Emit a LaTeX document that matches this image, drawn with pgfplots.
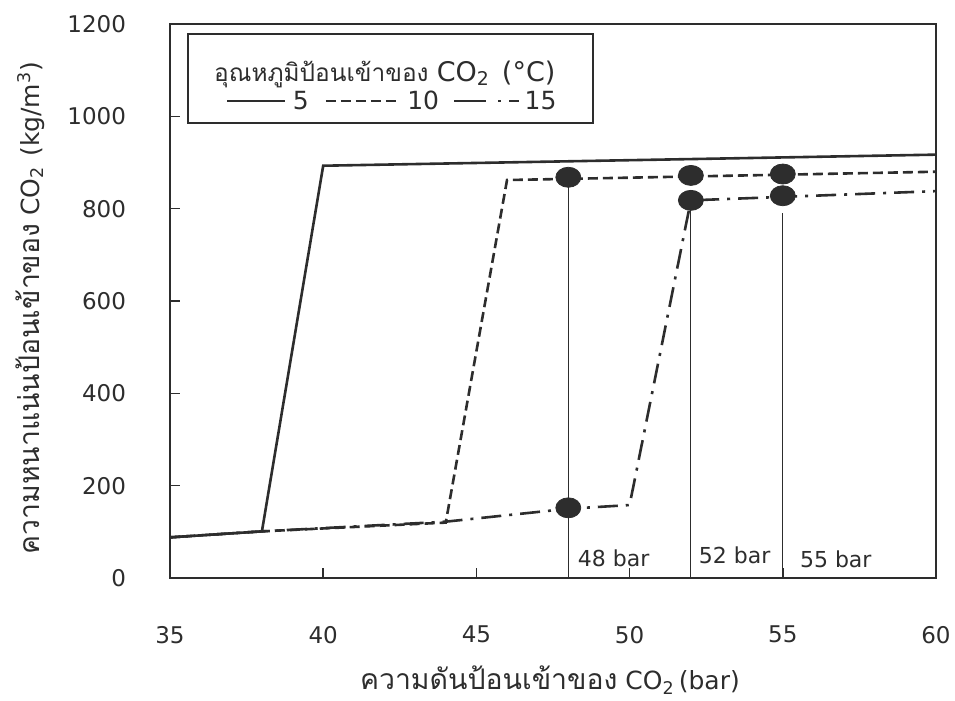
\documentclass[border=0pt]{standalone}
\usepackage{pgfplots}
\pgfplotsset{compat=1.18}
\usepackage{fontspec}
\setmainfont{DejaVu Sans}
\newfontfamily\thai[Script=Thai]{Loma}
\definecolor{ink}{RGB}{45,45,45}
\newcommand{\thaiL}[1]{{\fontsize{14.2pt}{16pt}\thai #1}}
\begin{document}
\fontsize{11.5pt}{14pt}\selectfont
\begin{tikzpicture}
\begin{axis}[
  at={(0,0)}, anchor=south west,
  scale only axis, width=383pt, height=277pt,
  xmin=35, xmax=60, ymin=0, ymax=1200,
  xtick={35,40,45,50,55,60}, ytick={0,200,400,600,800,1000,1200},
  tick align=inside, xtick pos=bottom, ytick pos=left,
  major tick length=5pt,
  axis line style={line width=1pt, ink},
  every tick/.style={line width=0.8pt, ink},
  /pgf/number format/assume math mode=true,
  /pgf/number format/1000 sep={},
  xticklabel style={yshift=-20pt, text=ink},
  yticklabel style={xshift=-18pt, text=ink},
  xlabel={\thaiL{ความดันป้อนเข้าของ} CO\textsubscript{2}\,(bar)},
  ylabel={\thaiL{ความหนาแน่นป้อนเข้าของ} CO\textsubscript{2}\hspace{5pt}(kg/m\textsuperscript{3})},
  label style={font=\fontsize{12.5pt}{15pt}\selectfont, text=ink},
  xlabel style={at={(axis description cs:0.496,-0.184)}, anchor=center},
  ylabel style={at={(axis description cs:-0.1828,0.487)}, anchor=center},
]
% vertical reference lines
\addplot[ink, line width=0.5pt] coordinates {(48,0) (48,868)};
\addplot[ink, line width=0.5pt] coordinates {(52,0) (52,818)};
\addplot[ink, line width=0.5pt] coordinates {(55,0) (55,790)};
% 5 C
\addplot[ink, line width=1.3pt] coordinates {(35,88) (38,101) (40,893) (60,917)};
% 10 C
\addplot[ink, line width=1.3pt, dash pattern=on 5pt off 2.5pt] coordinates {(35,88) (38,101) (44,120) (46,862) (60,880)};
% 15 C
\addplot[ink, line width=1.3pt, dash pattern=on 10pt off 4pt on 1.5pt off 4pt] coordinates {(35,88) (38,101) (44,122) (48,150) (50,158) (52,818) (60,838)};
% markers
\addplot[only marks, mark=*, mark size=5pt, mark options={xscale=1.25, fill=ink, draw=ink}] coordinates {(48,868) (48,152) (52,872) (55,875) (52,818) (55,828)};
\node[anchor=west, text=ink, font=\fontsize{11}{12}\selectfont] at (axis cs:48.05,42) {48 bar};
\node[anchor=west, text=ink, font=\fontsize{11}{12}\selectfont] at (axis cs:52.0,50) {52 bar};
\node[anchor=west, text=ink, font=\fontsize{11}{12}\selectfont] at (axis cs:55.3,40) {55 bar};
% legend
\node[draw=ink, line width=1.2pt, anchor=north west, inner sep=0pt, text width=202.5pt,
      minimum height=44.5pt, align=left, text=ink, font=\fontsize{12.5pt}{15pt}\selectfont]
  at (axis description cs:0.0222,0.984) {%
  \rule{0pt}{17pt}\hspace*{13pt}{\fontsize{12.2pt}{14pt}\thai อุณหภูมิป้อนเข้าของ} {\fontsize{13.5pt}{15pt}\selectfont CO\textsubscript{2}\hspace{6pt}(°C)}\\[-1pt]
  \hspace*{19pt}\tikz[baseline=-0.6ex]\draw[ink, line width=1.3pt] (0,0)--(29pt,0);\hspace{3pt}5\hspace{8pt}%
  \tikz[baseline=-0.6ex]\draw[ink, line width=1.3pt, dash pattern=on 5pt off 2.5pt] (0,0)--(37pt,0);\hspace{3pt}10\hspace{7pt}%
  \tikz[baseline=-0.6ex]\draw[ink, line width=1.3pt, dash pattern=on 16pt off 6pt on 1.5pt off 4pt on 5pt off 1pt] (0,0)--(32.5pt,0);\hspace{2pt}15};
\end{axis}
\pgfresetboundingbox
\path (-85pt,-61.5pt) rectangle (392.5pt,289pt);
\end{tikzpicture}
\end{document}
